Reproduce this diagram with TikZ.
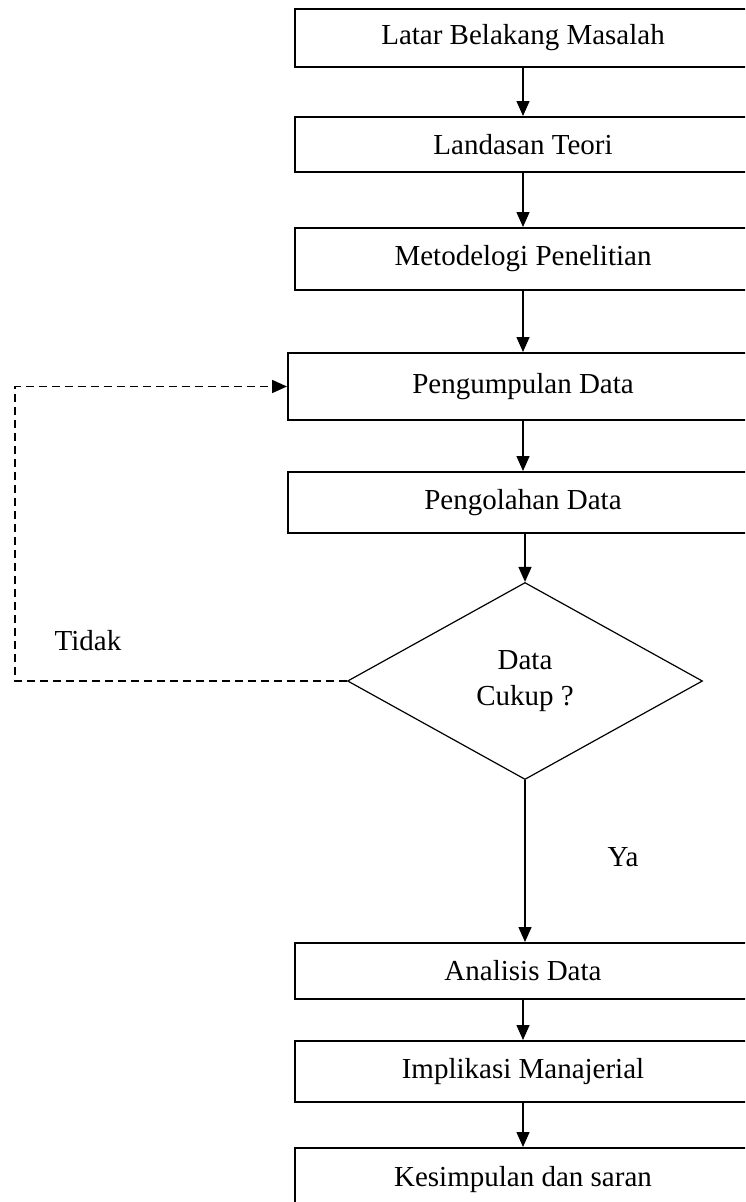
\documentclass[tikz,border=0pt]{standalone}
\usepackage{fontspec}
\setmainfont{Liberation Serif}
\usetikzlibrary{shapes.geometric,arrows.meta}
\begin{document}
\begin{tikzpicture}[x=1pt,y=-1pt,
  box/.style={draw, line width=2pt, minimum width=456pt, inner sep=0pt, font=\fontsize{29}{34}\selectfont},
  widebox/.style={box, minimum width=470pt},
  decision/.style={draw, diamond, line width=1.2pt, minimum width=355pt, minimum height=197pt, inner sep=0pt, align=center, font=\fontsize{29}{36}\selectfont},
  arr/.style={line width=1.4pt, -{Triangle[length=15pt,width=13pt]}},
  darr/.style={line width=1.6pt, dash pattern=on 8pt off 5pt, -{Triangle[length=15pt,width=13pt]}},
  lbl/.style={font=\fontsize{29}{34}\selectfont, inner sep=0pt}]
\useasboundingbox (0,0) rectangle (745,1202);
\clip (0,0) rectangle (745,1202);
\node[box, minimum height=58pt] (b1) at (523,38) {Latar Belakang Masalah};
\node[box, minimum height=55pt] (b2) at (523,144.5) {Landasan Teori};
\node[box, minimum height=62pt] (b3) at (523,259) {Metodelogi Penelitian};
\node[widebox, minimum height=67pt] (b4) at (523,386.5) {Pengumpulan Data};
\node[widebox, minimum height=61pt] (b5) at (523,502.5) {Pengolahan Data};
\node[decision] (d) at (525,681) {Data\\Cukup ?};
\node[box, minimum height=56pt] (b6) at (523,971) {Analisis Data};
\node[box, minimum height=61pt] (b7) at (523,1071.5) {Implikasi Manajerial};
\node[box, minimum height=64pt] (b8) at (523,1180) {Kesimpulan dan saran};
\node[lbl] (tidak) at (88,641) {Tidak};
\node[lbl] (ya) at (623,857) {Ya};
\coordinate (c1) at (15,681);
\coordinate (c2) at (15,386.5);
\draw[arr] (b1) -- (b2);
\draw[arr] (b2) -- (b3);
\draw[arr] (b3) -- (b4);
\draw[arr] (b4) -- (b5);
\draw[arr] (b5.south -| d.north) -- (d.north);
\draw[arr] (d.south) -- (d.south |- b6.north);
\draw[arr] (b6) -- (b7);
\draw[arr] (b7) -- (b8);
\draw[darr] (d.west) -- (c1) -- (c2) -- (b4.west);
\end{tikzpicture}
\end{document}
